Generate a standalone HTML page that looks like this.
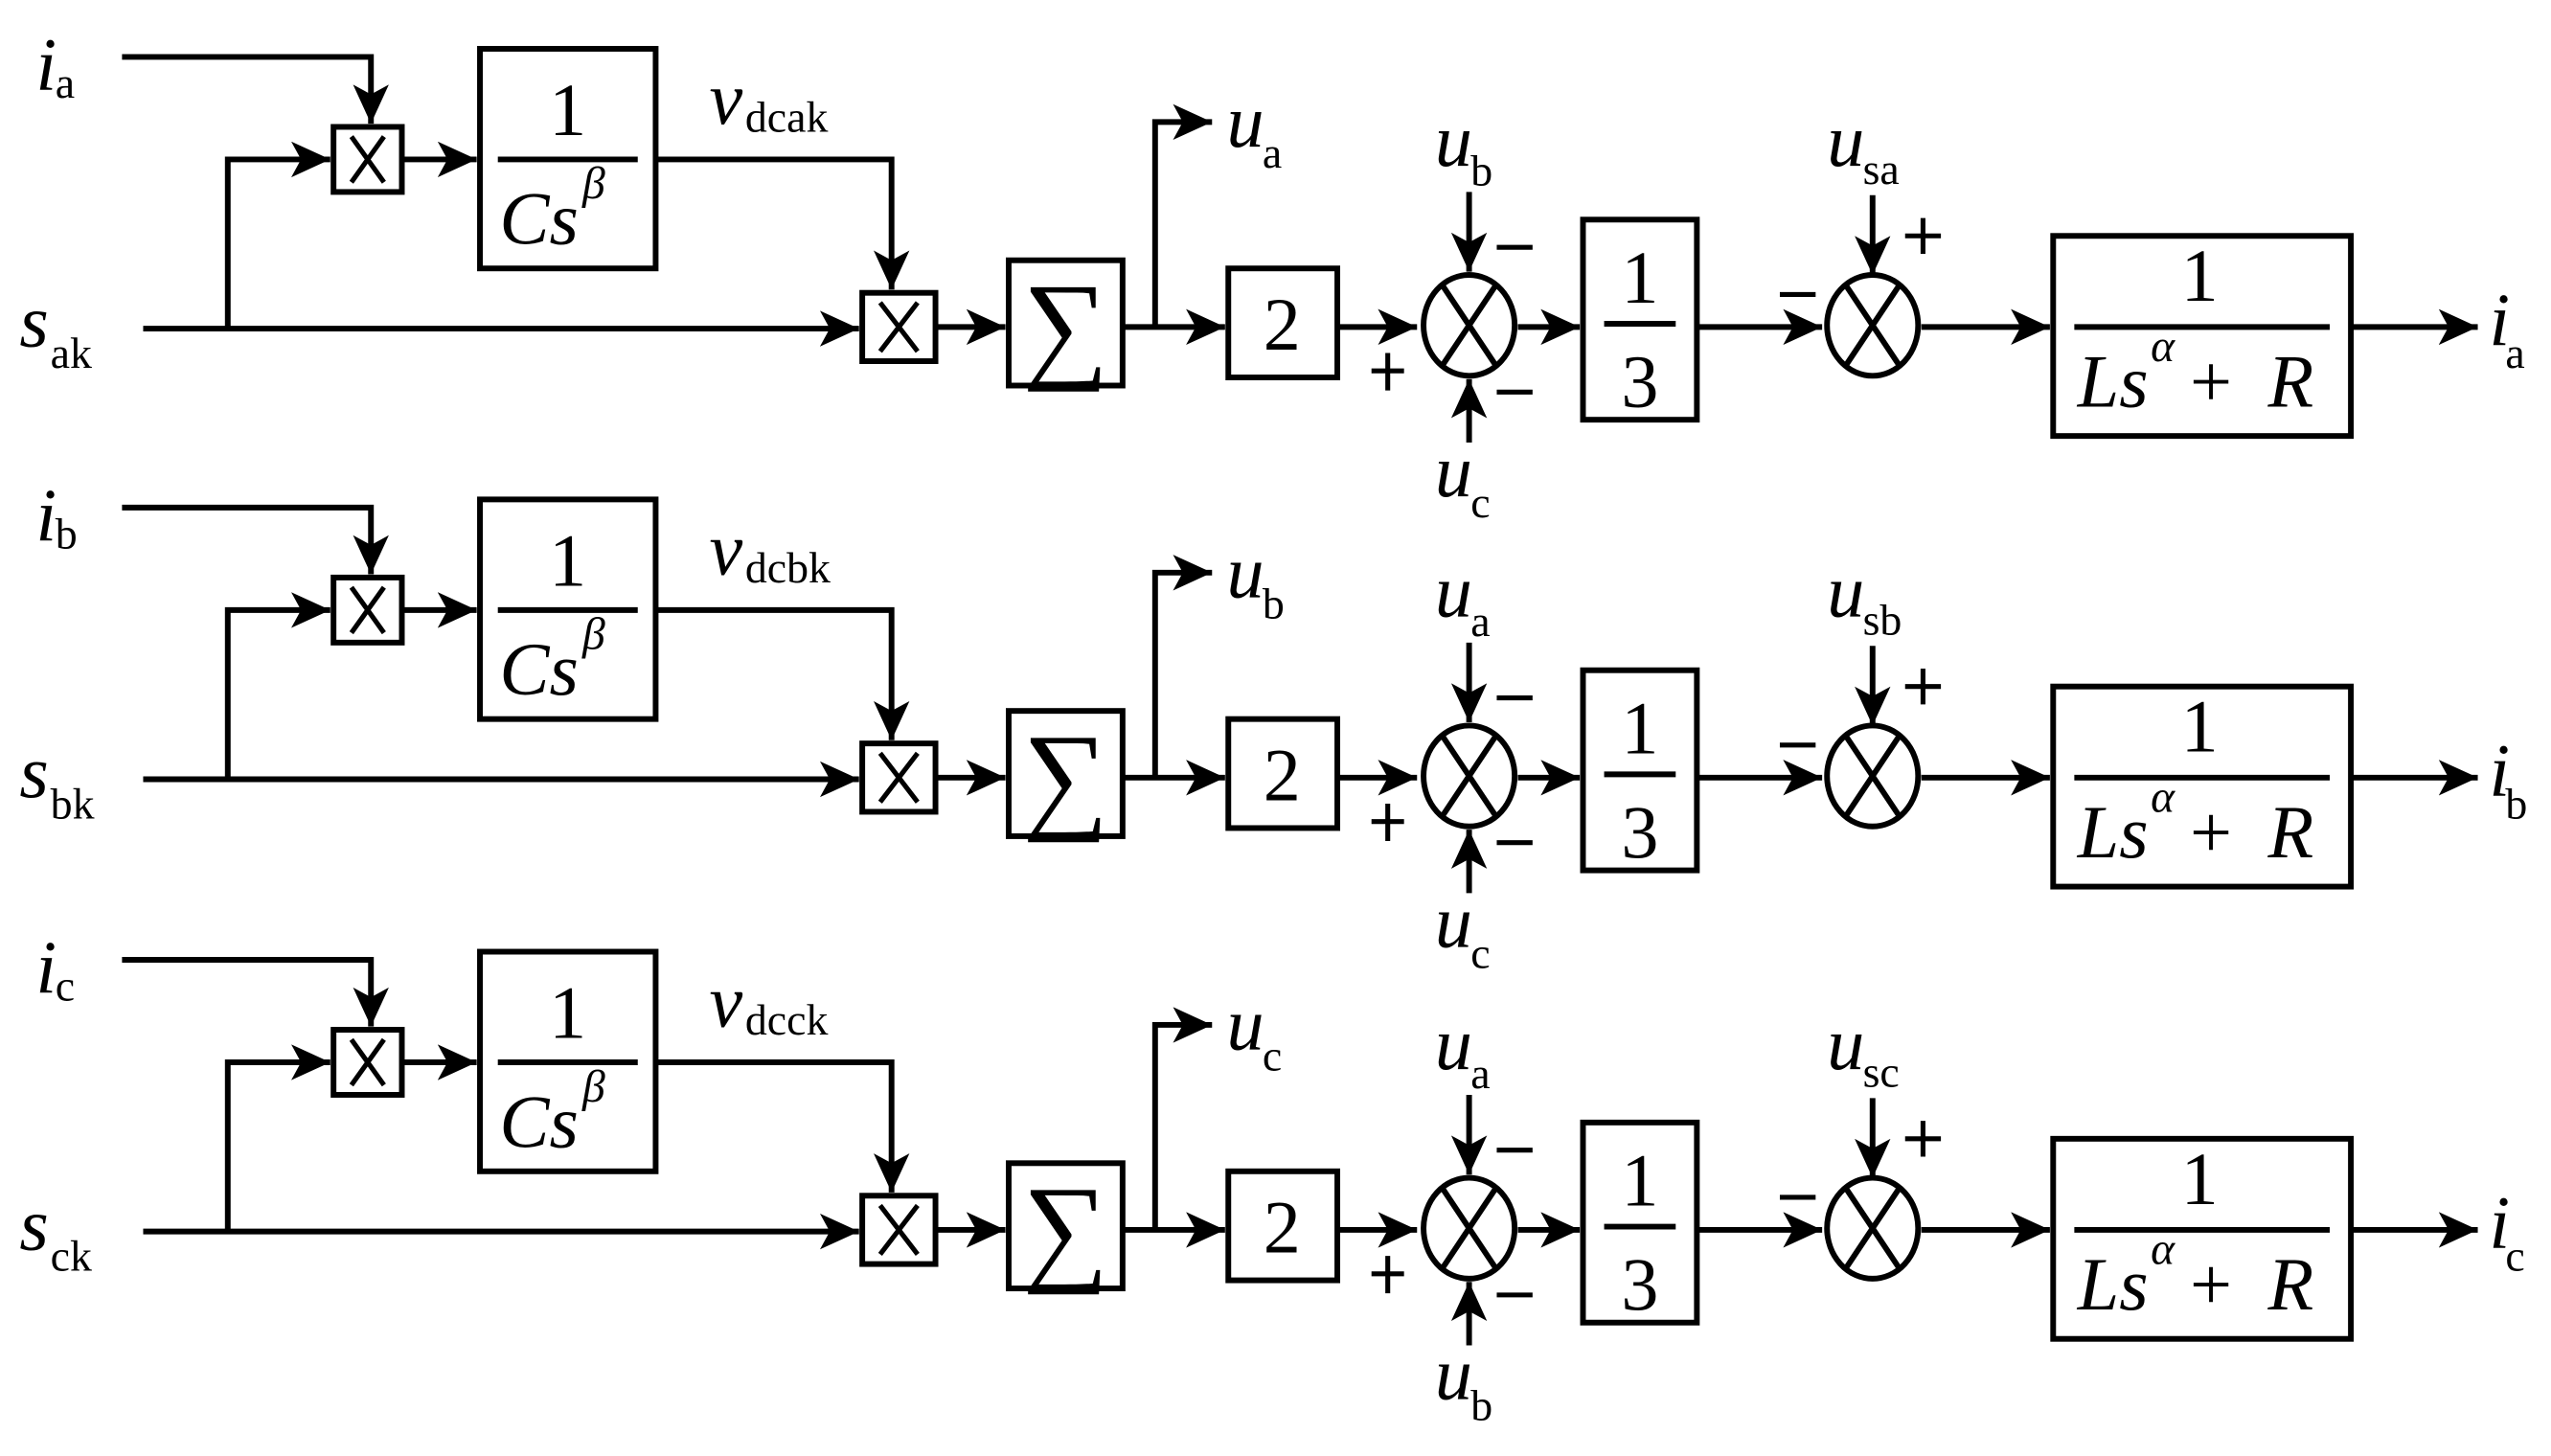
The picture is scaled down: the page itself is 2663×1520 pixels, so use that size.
<!DOCTYPE html>
<html><head><meta charset="utf-8"><style>
html,body{margin:0;padding:0;background:#fff;}
svg{display:block;}
text{font-family:"Liberation Serif","Times New Roman",serif;fill:#000;}
.v{font-style:italic;font-size:46px;}
.s{font-size:27px;}
.n{font-size:46px;}
</style></head><body>
<svg width="2663" height="1520" viewBox="0 0 1568 895" xmlns="http://www.w3.org/2000/svg" font-family="Liberation Serif, serif">
<defs>
<marker id="ar" markerUnits="userSpaceOnUse" markerWidth="26" markerHeight="24" refX="24" refY="11" orient="auto">
<path d="M0,0 L24,11 L0,22 L6,11 z" fill="#000"/>
</marker>
<g id="row" fill="none" stroke="#000" stroke-width="3.5">
<path d="M75,35 H228 V76" marker-end="url(#ar)"/>
<rect x="205" y="78" width="42" height="40"/>
<path d="M216,84 L236,112 M236,84 L216,112" stroke-width="3"/>
<path d="M88,202 H528" marker-end="url(#ar)"/>
<path d="M140,202 V98 H203" marker-end="url(#ar)"/>
<path d="M247,98 H293" marker-end="url(#ar)"/>
<rect x="295" y="30" width="108" height="135"/>
<path d="M306,98 H392"/>
<path d="M403,98 H548 V178" marker-end="url(#ar)"/>
<rect x="530" y="180" width="45" height="42"/>
<path d="M541,186 L564,216 M564,186 L541,216" stroke-width="3"/>
<path d="M575,201 H618" marker-end="url(#ar)"/>
<rect x="620" y="160" width="70" height="77"/>
<path d="M690,201 H753" marker-end="url(#ar)"/>
<path d="M710,201 V75 H745" marker-end="url(#ar)"/>
<rect x="755" y="165" width="67" height="67"/>
<path d="M822,201 H871" marker-end="url(#ar)"/>
<ellipse cx="903" cy="200" rx="28" ry="31"/>
<path d="M887,176 L919,224 M919,176 L887,224"/>
<path d="M903,118 V167" marker-end="url(#ar)"/>
<path d="M903,272 V233" marker-end="url(#ar)"/>
<path d="M920,152 H942 M920,241 H942 M843,228 H863 M853,217 V240" stroke-width="3"/>
<path d="M933,201 H971" marker-end="url(#ar)"/>
<rect x="973" y="135" width="70" height="123"/>
<path d="M986,199 H1030"/>
<path d="M1043,201 H1120" marker-end="url(#ar)"/>
<path d="M1094,181 H1116 M1171,145 H1193 M1182,134 V156" stroke-width="3"/>
<ellipse cx="1151" cy="200" rx="28" ry="31"/>
<path d="M1135,176 L1167,224 M1167,176 L1135,224"/>
<path d="M1151,120 V169" marker-end="url(#ar)"/>
<path d="M1181,201 H1260" marker-end="url(#ar)"/>
<rect x="1262" y="145" width="183" height="123"/>
<path d="M1275,201 H1432"/>
<path d="M1445,201 H1523" marker-end="url(#ar)"/>
</g>
<g id="rowt">
<text class="n" x="349" y="83" text-anchor="middle">1</text>
<text class="v" x="307" y="150">Cs</text>
<text class="v" x="358" y="122" style="font-size:28px">β</text>
<text x="655" y="225" text-anchor="middle" style="font-size:74px">∑</text>
<text class="n" x="788" y="215" text-anchor="middle">2</text>
<text class="n" x="1008" y="186" text-anchor="middle">1</text>
<text class="n" x="1008" y="250" text-anchor="middle">3</text>
<text class="n" x="1352" y="185" text-anchor="middle">1</text>
<text class="v" x="1277" y="250">Ls</text>
<text class="v" x="1322" y="222" style="font-size:28px">α</text>
<text class="n" x="1346" y="250">+</text>
<text class="v" x="1394" y="250">R</text>
</g>
</defs>

<use href="#row"/><use href="#rowt"/>
<use href="#row" y="277"/><use href="#rowt" y="277"/>
<use href="#row" y="555"/><use href="#rowt" y="555"/>

<text class="v" x="22" y="55">i</text><text class="s" x="34" y="60">a</text>
<text class="v" x="12" y="213">s</text><text class="s" x="31" y="226">ak</text>
<text class="v" x="436" y="76">v</text><text class="s" x="458" y="81">dcak</text>
<text class="v" x="754" y="90">u</text><text class="s" x="776" y="103">a</text>
<text class="v" x="882" y="102">u</text><text class="s" x="904" y="114">b</text>
<text class="v" x="882" y="305">u</text><text class="s" x="904" y="318">c</text>
<text class="v" x="1123" y="102">u</text><text class="s" x="1145" y="113">sa</text>
<text class="v" x="1530" y="212">i</text><text class="s" x="1540" y="226">a</text>

<text class="v" x="22" y="332">i</text><text class="s" x="34" y="337">b</text>
<text class="v" x="12" y="490">s</text><text class="s" x="31" y="503">bk</text>
<text class="v" x="436" y="353">v</text><text class="s" x="458" y="358">dcbk</text>
<text class="v" x="754" y="367">u</text><text class="s" x="776" y="380">b</text>
<text class="v" x="882" y="379">u</text><text class="s" x="904" y="391">a</text>
<text class="v" x="882" y="582">u</text><text class="s" x="904" y="595">c</text>
<text class="v" x="1123" y="379">u</text><text class="s" x="1145" y="390">sb</text>
<text class="v" x="1530" y="489">i</text><text class="s" x="1540" y="503">b</text>

<text class="v" x="22" y="610">i</text><text class="s" x="34" y="615">c</text>
<text class="v" x="12" y="768">s</text><text class="s" x="31" y="781">ck</text>
<text class="v" x="436" y="631">v</text><text class="s" x="458" y="636">dcck</text>
<text class="v" x="754" y="645">u</text><text class="s" x="776" y="658">c</text>
<text class="v" x="882" y="657">u</text><text class="s" x="904" y="669">a</text>
<text class="v" x="882" y="860">u</text><text class="s" x="904" y="873">b</text>
<text class="v" x="1123" y="657">u</text><text class="s" x="1145" y="668">sc</text>
<text class="v" x="1530" y="767">i</text><text class="s" x="1540" y="781">c</text>
</svg>
</body></html>
